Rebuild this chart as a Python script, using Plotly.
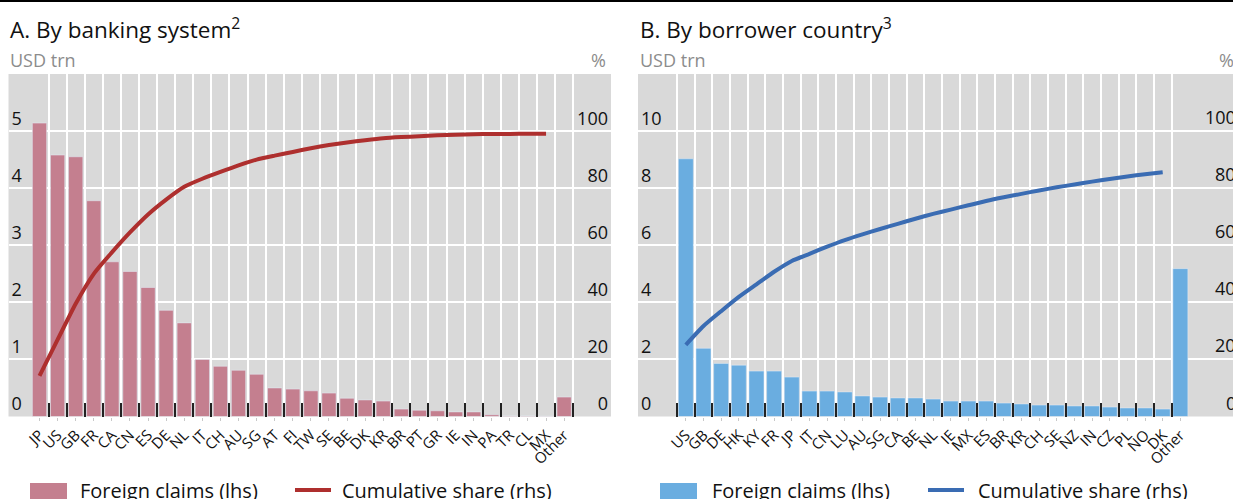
import plotly.graph_objects as go

# ---- Panel A: foreign claims by banking system ----
banks = ["JP", "US", "GB", "FR", "CA", "CN", "ES", "DE", "NL", "IT", "CH", "AU", "SG", "AT",
         "FI", "TW", "SE", "BE", "DK", "KR", "BR", "PT", "GR", "IE", "IN", "PA", "TR", "CL",
         "MX", "Other"]
claims_bank = [5.14, 4.58, 4.55, 3.78, 2.71, 2.54, 2.26, 1.86, 1.64, 1.00, 0.88, 0.81, 0.74, 0.50,
               0.48, 0.45, 0.41, 0.32, 0.29, 0.27, 0.13, 0.11, 0.10, 0.08, 0.08, 0.03, 0.01, 0.01,
               0.005, 0.34]
cum_share_bank = [14.2, 26.9, 39.5, 50.0, 57.5, 64.5, 70.8, 76.0, 80.5, 83.3, 85.7, 88.0, 90.0,
                  91.4, 92.7, 94.0, 95.1, 96.0, 96.8, 97.5, 97.9, 98.2, 98.5, 98.7, 98.9, 99.0,
                  99.0, 99.05, 99.1]

# ---- Panel B: foreign claims by borrower country ----
borrowers = ["US", "GB", "DE", "HK", "KY", "FR", "JP", "IT", "CN", "LU", "AU", "SG", "CA", "BE",
             "NL", "IE", "MX", "ES", "BR", "KR", "CH", "SE", "NZ", "IN", "CZ", "PL", "NO", "DK",
             "Other"]
claims_borrower = [9.03, 2.39, 1.86, 1.80, 1.59, 1.59, 1.38, 0.89, 0.89, 0.86, 0.72, 0.68, 0.65,
                   0.65, 0.61, 0.54, 0.54, 0.54, 0.47, 0.44, 0.40, 0.40, 0.37, 0.37, 0.33, 0.30,
                   0.30, 0.26, 5.18]
cum_share_borrower = [25.1, 31.7, 36.9, 41.9, 46.3, 50.7, 54.5, 57.0, 59.5, 61.8, 63.8, 65.7, 67.5,
                      69.3, 71.0, 72.5, 74.0, 75.5, 76.8, 78.0, 79.2, 80.3, 81.3, 82.3, 83.2, 84.1,
                      84.9, 85.6]

lhs_ticks_a = [0, 1, 2, 3, 4, 5]
lhs_ticks_b = [0, 2, 4, 6, 8, 10]
rhs_ticks = [0, 20, 40, 60, 80, 100]

W, H = 1233, 499
FONT = "Open Sans"
BG = "#D9D9D9"
BAR_A, LINE_A = "#C47F8F", "#AE2F2E"
BAR_B, LINE_B = "#6AADE0", "#3A6CB3"


def px(x):
    return x / W


def py(y):
    return 1 - y / H


y_dom = [py(416.5), py(74)]
xa_dom = [px(8.5), px(611)]
xb_dom = [px(638), 1.0]
xa_range = [-1.714, 31.59]
xb_range = [-2.708, 30.98]

bounds_a = [i + 0.5 for i in range(len(banks))]
bounds_b = [i - 0.5 for i in range(len(borrowers))]

fig = go.Figure()

fig.add_trace(go.Bar(x=banks, y=claims_bank, marker_color=BAR_A, width=0.79,
                     xaxis="x", yaxis="y", showlegend=False, name="Foreign claims (lhs)"))
fig.add_trace(go.Scatter(x=banks[:len(cum_share_bank)], y=cum_share_bank, mode="lines",
                         line=dict(color=LINE_A, width=4, shape="spline", smoothing=0.6),
                         xaxis="x", yaxis="y2", showlegend=False, name="Cumulative share (rhs)"))
fig.add_trace(go.Bar(x=borrowers, y=claims_borrower, marker_color=BAR_B, width=0.85,
                     xaxis="x2", yaxis="y3", showlegend=False, name="Foreign claims (lhs)"))
fig.add_trace(go.Scatter(x=borrowers[:len(cum_share_borrower)], y=cum_share_borrower, mode="lines",
                         line=dict(color=LINE_B, width=4, shape="spline", smoothing=0.6),
                         xaxis="x2", yaxis="y4", showlegend=False, name="Cumulative share (rhs)"))

# invisible carriers so the category-boundary grid axes get drawn
for xa, ya, bounds in [("x3", "y", bounds_a), ("x4", "y3", bounds_b)]:
    fig.add_trace(go.Scatter(x=bounds, y=[0] * len(bounds), mode="markers",
                             marker=dict(opacity=0, size=1), hoverinfo="skip",
                             xaxis=xa, yaxis=ya, showlegend=False))

cat_axis = dict(type="category", showgrid=False, zeroline=False, showline=False,
                tickmode="linear", dtick=1, tick0=0,
                ticks="outside", ticklen=3, tickcolor="#C8C8C8", tickwidth=1,
                tickangle=-45, tickfont=dict(family=FONT, size=15, color="#111"),
                fixedrange=True)
grid_axis = dict(type="linear", showgrid=True, gridcolor="white", gridwidth=1.5,
                 zeroline=False, showline=False, showticklabels=False,
                 ticks="inside", ticklen=14, tickwidth=1.5, tickcolor="#222",
                 side="bottom", fixedrange=True)
val_axis = dict(showgrid=True, gridcolor="white", gridwidth=1.5, zeroline=False,
                showline=False, ticks="", ticklabelposition="inside top",
                tickfont=dict(family=FONT, size=18, color="#111"), fixedrange=True)

fig.update_layout(
    width=W, height=H, margin=dict(l=0, r=0, t=0, b=0),
    paper_bgcolor="white", plot_bgcolor=BG,
    font=dict(family=FONT, color="#111"),
    xaxis=dict(cat_axis, domain=xa_dom, range=xa_range, anchor="y"),
    xaxis3=dict(grid_axis, domain=xa_dom, range=xa_range, anchor="y", overlaying="x",
                tickmode="array", tickvals=bounds_a),
    yaxis=dict(val_axis, domain=y_dom, range=[0, 6], tickvals=lhs_ticks_a, anchor="x"),
    yaxis2=dict(val_axis, domain=y_dom, range=[0, 120], tickvals=rhs_ticks, anchor="x",
                overlaying="y", side="right", showgrid=False),
    xaxis2=dict(cat_axis, domain=xb_dom, range=xb_range, anchor="y3"),
    xaxis4=dict(grid_axis, domain=xb_dom, range=xb_range, anchor="y3", overlaying="x2",
                tickmode="array", tickvals=bounds_b),
    yaxis3=dict(val_axis, domain=y_dom, range=[0, 12], tickvals=lhs_ticks_b, anchor="x2"),
    yaxis4=dict(val_axis, domain=y_dom, range=[0, 120], tickvals=rhs_ticks, anchor="x2",
                overlaying="y3", side="right", showgrid=False, showticklabels=False),
)

# rule across the top of the figure
fig.add_shape(type="line", xref="paper", yref="paper", x0=0, x1=1, y0=py(1), y1=py(1),
              line=dict(color="black", width=2))

ann = []
for x0, title in [(8, "A. By banking system<sup>2</sup>"), (638, "B. By borrower country<sup>3</sup>")]:
    ann.append(dict(text=title, x=px(x0), y=py(28), xref="paper", yref="paper",
                    xanchor="left", yanchor="middle", showarrow=False,
                    font=dict(family=FONT, size=22.5, color="#111")))
    ann.append(dict(text="USD trn", x=px(x0), y=py(60), xref="paper", yref="paper",
                    xanchor="left", yanchor="middle", showarrow=False,
                    font=dict(family=FONT, size=18, color="#8C8C8C")))
for xr in (608, 1236):
    ann.append(dict(text="%", x=px(xr), y=py(60), xref="paper", yref="paper",
                    xanchor="right", yanchor="middle", showarrow=False,
                    font=dict(family=FONT, size=18, color="#8C8C8C")))

# right-hand scale of panel B runs past the page edge, so its labels sit on the rhs axis values
for v in rhs_ticks:
    ann.append(dict(text=str(v), x=px(1237), y=v, xref="paper", yref="y4",
                    xanchor="right", yanchor="bottom", showarrow=False, borderpad=0,
                    yshift=1, font=dict(family=FONT, size=18, color="#111")))

# legend keys along the bottom edge
legend_y = 490
for rx, bar_col, tx1, lx, line_col, tx2 in [(30, BAR_A, 78, 295, LINE_A, 340),
                                             (660, BAR_B, 710, 928, LINE_B, 976)]:
    fig.add_shape(type="rect", xref="paper", yref="paper", x0=px(rx), x1=px(rx + 37),
                  y0=py(483), y1=py(505), fillcolor=bar_col, line=dict(width=0))
    fig.add_shape(type="line", xref="paper", yref="paper", x0=px(lx), x1=px(lx + 36),
                  y0=py(legend_y), y1=py(legend_y), line=dict(color=line_col, width=4))
    ann.append(dict(text="Foreign claims (lhs)", x=px(tx1), y=py(legend_y), xref="paper",
                    yref="paper", xanchor="left", yanchor="middle", showarrow=False,
                    font=dict(family=FONT, size=20, color="#111")))
    ann.append(dict(text="Cumulative share (rhs)", x=px(tx2), y=py(legend_y), xref="paper",
                    yref="paper", xanchor="left", yanchor="middle", showarrow=False,
                    font=dict(family=FONT, size=20, color="#111")))

fig.update_layout(annotations=ann)

fig.write_html("out.html", config={"displayModeBar": False})
